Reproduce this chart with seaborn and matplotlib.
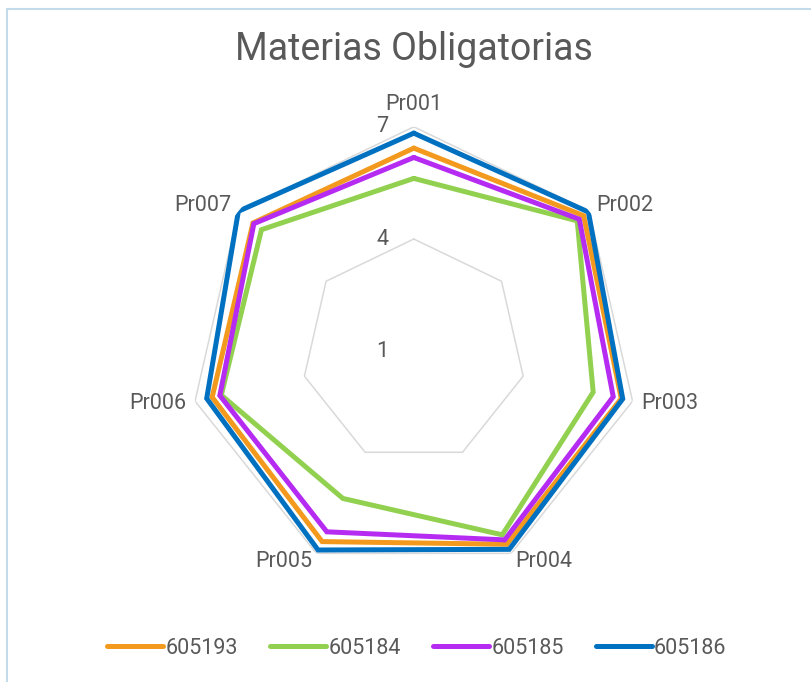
import numpy as np
import pandas as pd
import matplotlib
matplotlib.use("Agg")
import matplotlib.pyplot as plt
import seaborn as sns
from matplotlib.lines import Line2D
from matplotlib.patches import Rectangle

# ---- data ----
categories = ["Pr001", "Pr002", "Pr003", "Pr004", "Pr005", "Pr006", "Pr007"]
series_names = ["605193", "605184", "605185", "605186"]
s605193 = [6.43, 6.81, 6.69, 6.73, 6.65, 6.53, 6.50]
s605184 = [5.62, 6.59, 5.92, 6.45, 5.37, 6.28, 6.21]
s605185 = [6.18, 6.66, 6.47, 6.60, 6.36, 6.32, 6.47]
s605186 = [6.83, 6.97, 6.73, 6.88, 6.90, 6.68, 7.00]
radial_ticks = [1, 4, 7]
colors = ["#F39A1E", "#92D050", "#B62BF2", "#0070C0"]

sns.set_style("white")
plt.rcParams["font.family"] = ["Roboto", "DejaVu Sans"]

TXT = "#595959"
W, H = 812, 682
fig = plt.figure(figsize=(W / 100, H / 100), dpi=100)

cx, cy, R = 413.8, 351.2, 224.4
ax = fig.add_axes([(cx - R) / W, (H - cy - R) / H, 2 * R / W, 2 * R / H], projection="polar")
ax.set_theta_zero_location("N")
ax.set_theta_direction(-1)
ax.set_ylim(radial_ticks[0], radial_ticks[-1])
ax.grid(False)
ax.spines["polar"].set_visible(False)
ax.patch.set_alpha(0)

n = len(categories)
theta = [2 * np.pi * k / n for k in range(n)]
theta_closed = theta + [2 * np.pi]

# heptagonal grid rings
for rv in radial_ticks[1:]:
    ax.plot(theta_closed, [rv] * (n + 1), color="#D9D9D9", lw=1.1, zorder=1)

# long-form table for seaborn
rows = []
for name, vals in zip(series_names, [s605193, s605184, s605185, s605186]):
    closed = list(vals) + [vals[0]]
    for t, v in zip(theta_closed, closed):
        rows.append({"theta": t, "value": v, "series": name})
df = pd.DataFrame(rows)

sns.lineplot(data=df, x="theta", y="value", hue="series", hue_order=series_names,
             palette=colors, sort=False, estimator=None, lw=3.6, legend=False, ax=ax, zorder=3)
for ln in ax.get_lines()[len(radial_ticks) - 1:]:
    ln.set_solid_joinstyle("miter")
ax.set_xlabel("")
ax.set_ylabel("")
ax.set_xticks([])
ax.set_yticks([])
ax.set_ylim(radial_ticks[0], radial_ticks[-1])

# radial value labels
for rv in radial_ticks:
    ax.annotate(str(rv), xy=(0, rv), xytext=(-22.5, 0), textcoords="offset points",
                ha="center", va="center", fontsize=15.5, color=TXT, annotation_clip=False)

# category labels
for t, lab in zip(theta, categories):
    s, c = np.sin(t), np.cos(t)
    off = 6.5
    if abs(s) < 1e-6:
        ha, va = "center", "bottom"
    else:
        ha = "left" if s > 0 else "right"
        va = "center"
    ax.annotate(lab, xy=(t, radial_ticks[-1]), xytext=(off * s, off * c + (2 if va == "bottom" else 0)),
                textcoords="offset points", ha=ha, va=va, fontsize=15.5, color=TXT,
                annotation_clip=False)

fig.text(413.5 / W, 1 - 50 / H, "Materias Obligatorias", ha="center", va="center",
         fontsize=27, color=TXT)

handles = [Line2D([0], [0], color=c, lw=3.6, solid_capstyle="round") for c in colors]
fig.legend(handles, series_names, loc="center", bbox_to_anchor=(417 / W, 1 - 648 / H),
           ncol=4, frameon=False, fontsize=15.5, handlelength=2.6, handletextpad=0.1,
           columnspacing=1.5, labelcolor=TXT)

fig.patches.append(Rectangle((6.5 / W, -0.01), 1.0, 1 - 8.5 / H + 0.01, transform=fig.transFigure,
                             fill=False, edgecolor="#C4DCEA", lw=1.5))

fig.savefig("out.png", dpi=100)
